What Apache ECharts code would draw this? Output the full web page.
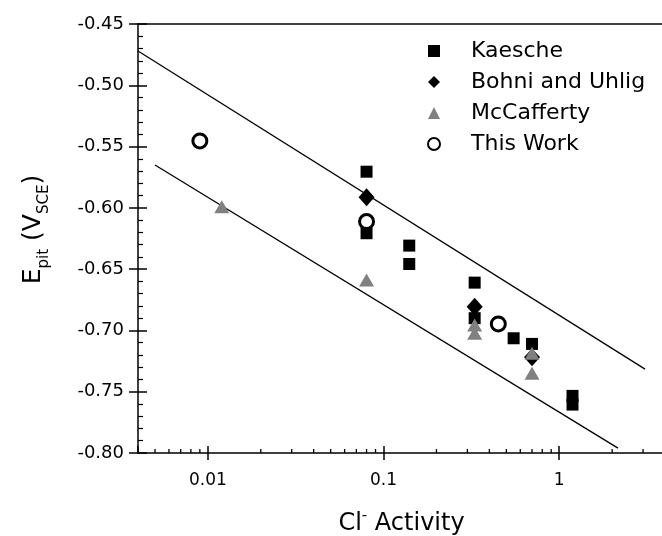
<!DOCTYPE html>
<html><head><meta charset="utf-8">
<script src="https://cdn.jsdelivr.net/npm/echarts@6/dist/echarts.min.js"></script>
<style>html,body{margin:0;padding:0;background:#fff}#c{width:662px;height:536px}</style>
</head><body><div id="c"></div>
<script>
// ---- data ----
const kaesche = [[0.08,-0.5705],[0.08,-0.6207],[0.14,-0.6308],[0.14,-0.6458],[0.33,-0.661],[0.33,-0.690],[0.55,-0.7064],[0.70,-0.711],[1.19,-0.7534],[1.19,-0.7605]];
const bohniUhlig = [[0.08,-0.5914],[0.33,-0.6806],[0.70,-0.7219]];
const mcCafferty = [[0.012,-0.599],[0.08,-0.6588],[0.33,-0.6955],[0.33,-0.7023],[0.70,-0.7186],[0.70,-0.735]];
const thisWork = [[0.009,-0.5454],[0.08,-0.6112],[0.45,-0.6947]];
const upperLine = [[0.004,-0.472],[3.08,-0.7316]];
const lowerLine = [[0.005,-0.565],[2.16,-0.796]];
const xMajorTicks = [0.01, 0.1, 1];
const xMinorTicks = [0.005,0.006,0.007,0.008,0.009,0.02,0.03,0.04,0.05,0.06,0.07,0.08,0.09,0.2,0.3,0.4,0.5,0.6,0.7,0.8,0.9,2,3];
const X_MIN = 0.004, X_MAX = 4;
const Y_MIN = -0.80, Y_MAX = -0.45, Y_STEP = 0.05;
const seriesNames = ['Kaesche','Bohni and Uhlig','McCafferty','This Work'];

const FONT = 'DejaVu Sans';
const GRAY = '#808080';
const chart = echarts.init(document.getElementById('c'), null, {renderer:'canvas'});

const xLabelFmt = v => {
  for (const t of xMajorTicks) if (Math.abs(Math.log10(v) - Math.log10(t)) < 1e-6) return String(t);
  return '';
};

const baseX = {type:'log', logBase:10, min:X_MIN, max:X_MAX, gridIndex:0};
const baseY = {type:'value', min:Y_MIN, max:Y_MAX, interval:Y_STEP, gridIndex:0, splitLine:{show:false}};

chart.setOption({
  animation:false,
  backgroundColor:'#fff',
  grid:{left:138, top:24, right:-3, bottom:83, containLabel:false, outerBoundsMode:'none'},
  legend:{
    orient:'vertical', left:427, top:39, padding:0,
    itemWidth:12, itemHeight:12, itemGap:7,
    data:[
      {name:'Kaesche', icon:'rect'},
      {name:'Bohni and Uhlig', icon:'diamond'},
      {name:'McCafferty', icon:'triangle'},
      {name:'This Work', icon:'circle', itemStyle:{color:'#fff', borderColor:'#000', borderWidth:2}}
    ],
    formatter: n => '{g|}' + n,
    textStyle:{fontFamily:FONT, fontSize:22, color:'#000', lineHeight:24, rich:{g:{width:26}}}
  },
  xAxis:[
    Object.assign({}, baseX, {
      position:'bottom',
      name:'Cl{sup|-} Activity', nameLocation:'middle', nameGap:56,
      nameTextStyle:{fontFamily:FONT, fontSize:24, color:'#000', rich:{sup:{fontFamily:FONT, fontSize:15, verticalAlign:'top', lineHeight:30}}},
      axisLine:{show:true, lineStyle:{color:'#000', width:1.5}},
      axisTick:{show:true, inside:false, length:7, lineStyle:{color:'#000', width:1.5}},
      axisLabel:{show:true, margin:19, formatter:xLabelFmt, showMinLabel:false, showMaxLabel:false, fontFamily:FONT, fontSize:17, color:'#000'},
      splitLine:{show:false}
    }),
    Object.assign({}, baseX, {
      position:'bottom',
      axisLine:{show:false},
      axisTick:{show:true, inside:true, length:7, lineStyle:{color:'#000', width:1.5}},
      axisLabel:{show:false}, splitLine:{show:false}
    }),
    Object.assign({}, baseX, {
      position:'top',
      axisLine:{show:true, lineStyle:{color:'#000', width:1.5}},
      axisTick:{show:false}, axisLabel:{show:false}, splitLine:{show:false}
    })
  ],
  yAxis:[
    Object.assign({}, baseY, {
      position:'left',
      name:'E{sub|pit} (V{sub|SCE})', nameLocation:'middle', nameGap:86, nameRotate:90,
      nameTextStyle:{fontFamily:FONT, fontSize:25, color:'#000', lineHeight:38, padding:[0,0,0,18],
        rich:{sub:{fontFamily:FONT, fontSize:15, verticalAlign:'bottom', lineHeight:16}}},
      axisLine:{show:true, lineStyle:{color:'#000', width:1.5}},
      axisTick:{show:true, inside:false, length:9, lineStyle:{color:'#000', width:1.5}},
      axisLabel:{show:true, margin:14, formatter:v=>v.toFixed(2), fontFamily:FONT, fontSize:18, color:'#000'}
    }),
    Object.assign({}, baseY, {
      position:'left', offset:0,
      axisLine:{show:false},
      axisTick:{show:true, inside:true, length:9, lineStyle:{color:'#000', width:1.5}},
      minorTick:{show:true, splitNumber:5, length:5, lineStyle:{color:'#000', width:1.2}},
      axisLabel:{show:false}
    })
  ],
  series:[
    {type:'line', name:'upper', data:upperLine, symbol:'none', lineStyle:{color:'#000', width:1.3}, silent:true, z:1},
    {type:'line', name:'lower', data:lowerLine, symbol:'none', lineStyle:{color:'#000', width:1.3}, silent:true, z:1},
    {type:'custom', name:'minorTicks', data:xMinorTicks.map(v=>[v, Y_MIN]), silent:true, clip:false, z:5,
      renderItem:(params, api)=>{
        const p = api.coord([api.value(0), api.value(1)]);
        return {type:'line', shape:{x1:p[0], y1:p[1], x2:p[0], y2:p[1]-4}, style:{stroke:'#000', lineWidth:1.3}};
      }},
    {type:'scatter', name:seriesNames[0], data:kaesche, symbol:'rect', symbolSize:12, itemStyle:{color:'#000', opacity:1}, z:2},
    {type:'scatter', name:seriesNames[1], data:bohniUhlig, symbol:'diamond', symbolSize:[16,18], itemStyle:{color:'#000', opacity:1}, z:3},
    {type:'scatter', name:seriesNames[2], data:mcCafferty, symbol:'triangle', symbolSize:[15,13], itemStyle:{color:GRAY, opacity:1}, z:4},
    {type:'scatter', name:seriesNames[3], data:thisWork, symbol:'circle', symbolSize:14, itemStyle:{color:'#fff', borderColor:'#000', borderWidth:3, opacity:1}, z:5}
  ]
});
</script>
</body></html>
